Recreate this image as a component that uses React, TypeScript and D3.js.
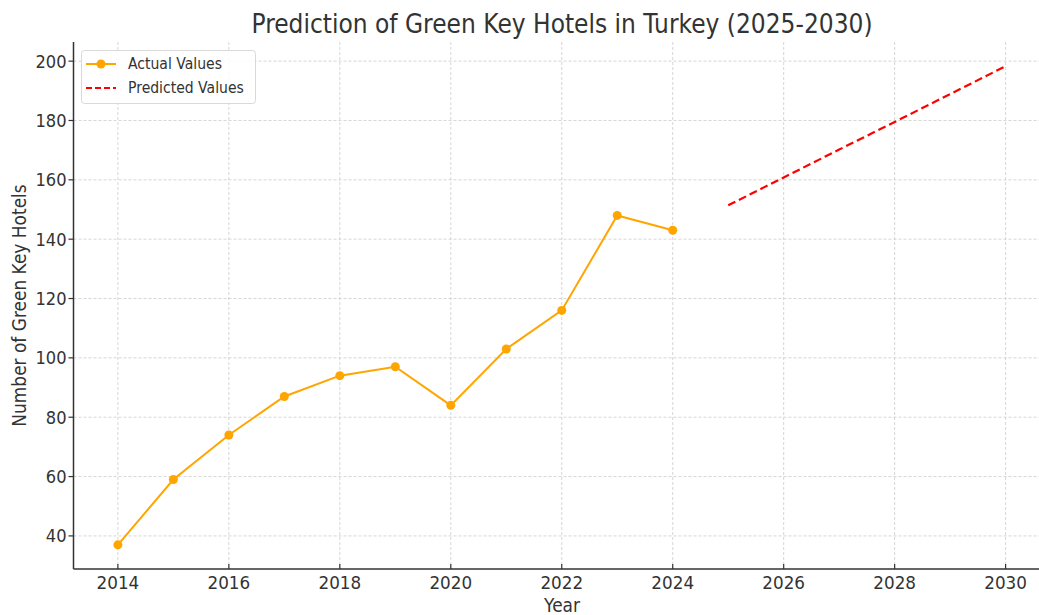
import React from 'react';
import * as d3 from 'd3';

// data
const actualYears = [2014, 2015, 2016, 2017, 2018, 2019, 2020, 2021, 2022, 2023, 2024];
const actualValues = [37, 59, 74, 87, 94, 97, 84, 103, 116, 148, 143];
const predictedYears = [2025, 2026, 2027, 2028, 2029, 2030];
const predictedValues = [151.4, 160.8, 170.2, 179.5, 188.9, 198.3];
const xTicks = [2014, 2016, 2018, 2020, 2022, 2024, 2026, 2028, 2030];
const yTicks = [40, 60, 80, 100, 120, 140, 160, 180, 200];

const W = 1039;
const H = 615;
const left = 73.5;
const top = 42;
const right = 1050;
const bottom = 569;
const font = 'DejaVu Sans, Verdana, sans-serif';
const ink = '#333333';
const stretch = 1.1; // reference text is a bit taller than wide

// text that is slightly stretched vertically, anchored at its baseline
const Label = ({ x, y, size, anchor = 'start', children, rotate = 0 }: any) => (
    <text
        transform={`translate(${x}, ${y}) rotate(${rotate}) scale(1, ${stretch})`}
        textAnchor={anchor}
        fontSize={size}
        fill={ink}
    >
        {children}
    </text>
);

const App = () => {
    const x = d3.scaleLinear().domain([2013.2, 2030.8]).range([left, right]);
    const y = d3.scaleLinear().domain([28.85, 206.45]).range([bottom, top]);

    const actual = actualYears.map((yr, i) => ({ yr, v: actualValues[i] }));
    const predicted = predictedYears.map((yr, i) => ({ yr, v: predictedValues[i] }));

    const line = d3.line<{ yr: number; v: number }>()
        .x(d => x(d.yr))
        .y(d => y(d.v));

    return (
        <div style={{ position: 'fixed', left: 0, top: 0 }}>
            <svg width={W} height={H} style={{ display: 'block', background: '#fff' }} fontFamily={font}>
                {/* grid */}
                <g stroke="#cccccc" strokeWidth={0.8} strokeDasharray="3,2">
                    {xTicks.map(t => (
                        <line key={'gx' + t} x1={x(t)} x2={x(t)} y1={top} y2={bottom} />
                    ))}
                    {yTicks.map(t => (
                        <line key={'gy' + t} x1={left} x2={W} y1={y(t)} y2={y(t)} />
                    ))}
                </g>

                {/* series */}
                <path d={line(actual) || ''} fill="none" stroke="orange" strokeWidth={2} />
                {actual.map(d => (
                    <circle key={d.yr} cx={x(d.yr)} cy={y(d.v)} r={4.5} fill="orange" />
                ))}
                <path d={line(predicted) || ''} fill="none" stroke="red" strokeWidth={2.2} strokeDasharray="8,4" />

                {/* spines */}
                <line x1={left} x2={left} y1={top} y2={bottom} stroke={ink} strokeWidth={1.5} />
                <line x1={left} x2={W} y1={bottom} y2={bottom} stroke={ink} strokeWidth={1.5} />

                {/* x ticks */}
                {xTicks.map(t => (
                    <g key={'xt' + t}>
                        <line x1={x(t)} x2={x(t)} y1={bottom} y2={bottom - 5} stroke={ink} strokeWidth={1.2} />
                        <Label x={x(t)} y={589} size={16.8} anchor="middle">{t}</Label>
                    </g>
                ))}
                {/* y ticks */}
                {yTicks.map(t => (
                    <g key={'yt' + t}>
                        <line x1={left} x2={left - 5} y1={y(t)} y2={y(t)} stroke={ink} strokeWidth={1.2} />
                        <Label x={left - 7} y={y(t) + 6.5} size={16.3} anchor="end">{t}</Label>
                    </g>
                ))}

                {/* labels */}
                <Label x={562} y={612} size={17} anchor="middle">Year</Label>
                <Label x={26} y={(top + bottom) / 2} size={17} anchor="middle" rotate={-90}>
                    Number of Green Key Hotels
                </Label>
                <Label x={562} y={33} size={23.4} anchor="middle">
                    Prediction of Green Key Hotels in Turkey (2025-2030)
                </Label>

                {/* legend */}
                <g>
                    <rect x={81.5} y={50.5} width={174} height={53} rx={3} fill="#fff" fillOpacity={0.85} stroke="#d9d9d9" strokeWidth={1} />
                    <line x1={86} x2={116} y1={64} y2={64} stroke="orange" strokeWidth={2} />
                    <circle cx={101} cy={64} r={4.5} fill="orange" />
                    <Label x={128} y={69} size={14}>Actual Values</Label>
                    <line x1={86} x2={116} y1={88} y2={88} stroke="red" strokeWidth={2.2} strokeDasharray="6,3" />
                    <Label x={128} y={93} size={14}>Predicted Values</Label>
                </g>
            </svg>
        </div>
    );
};

export default App;
